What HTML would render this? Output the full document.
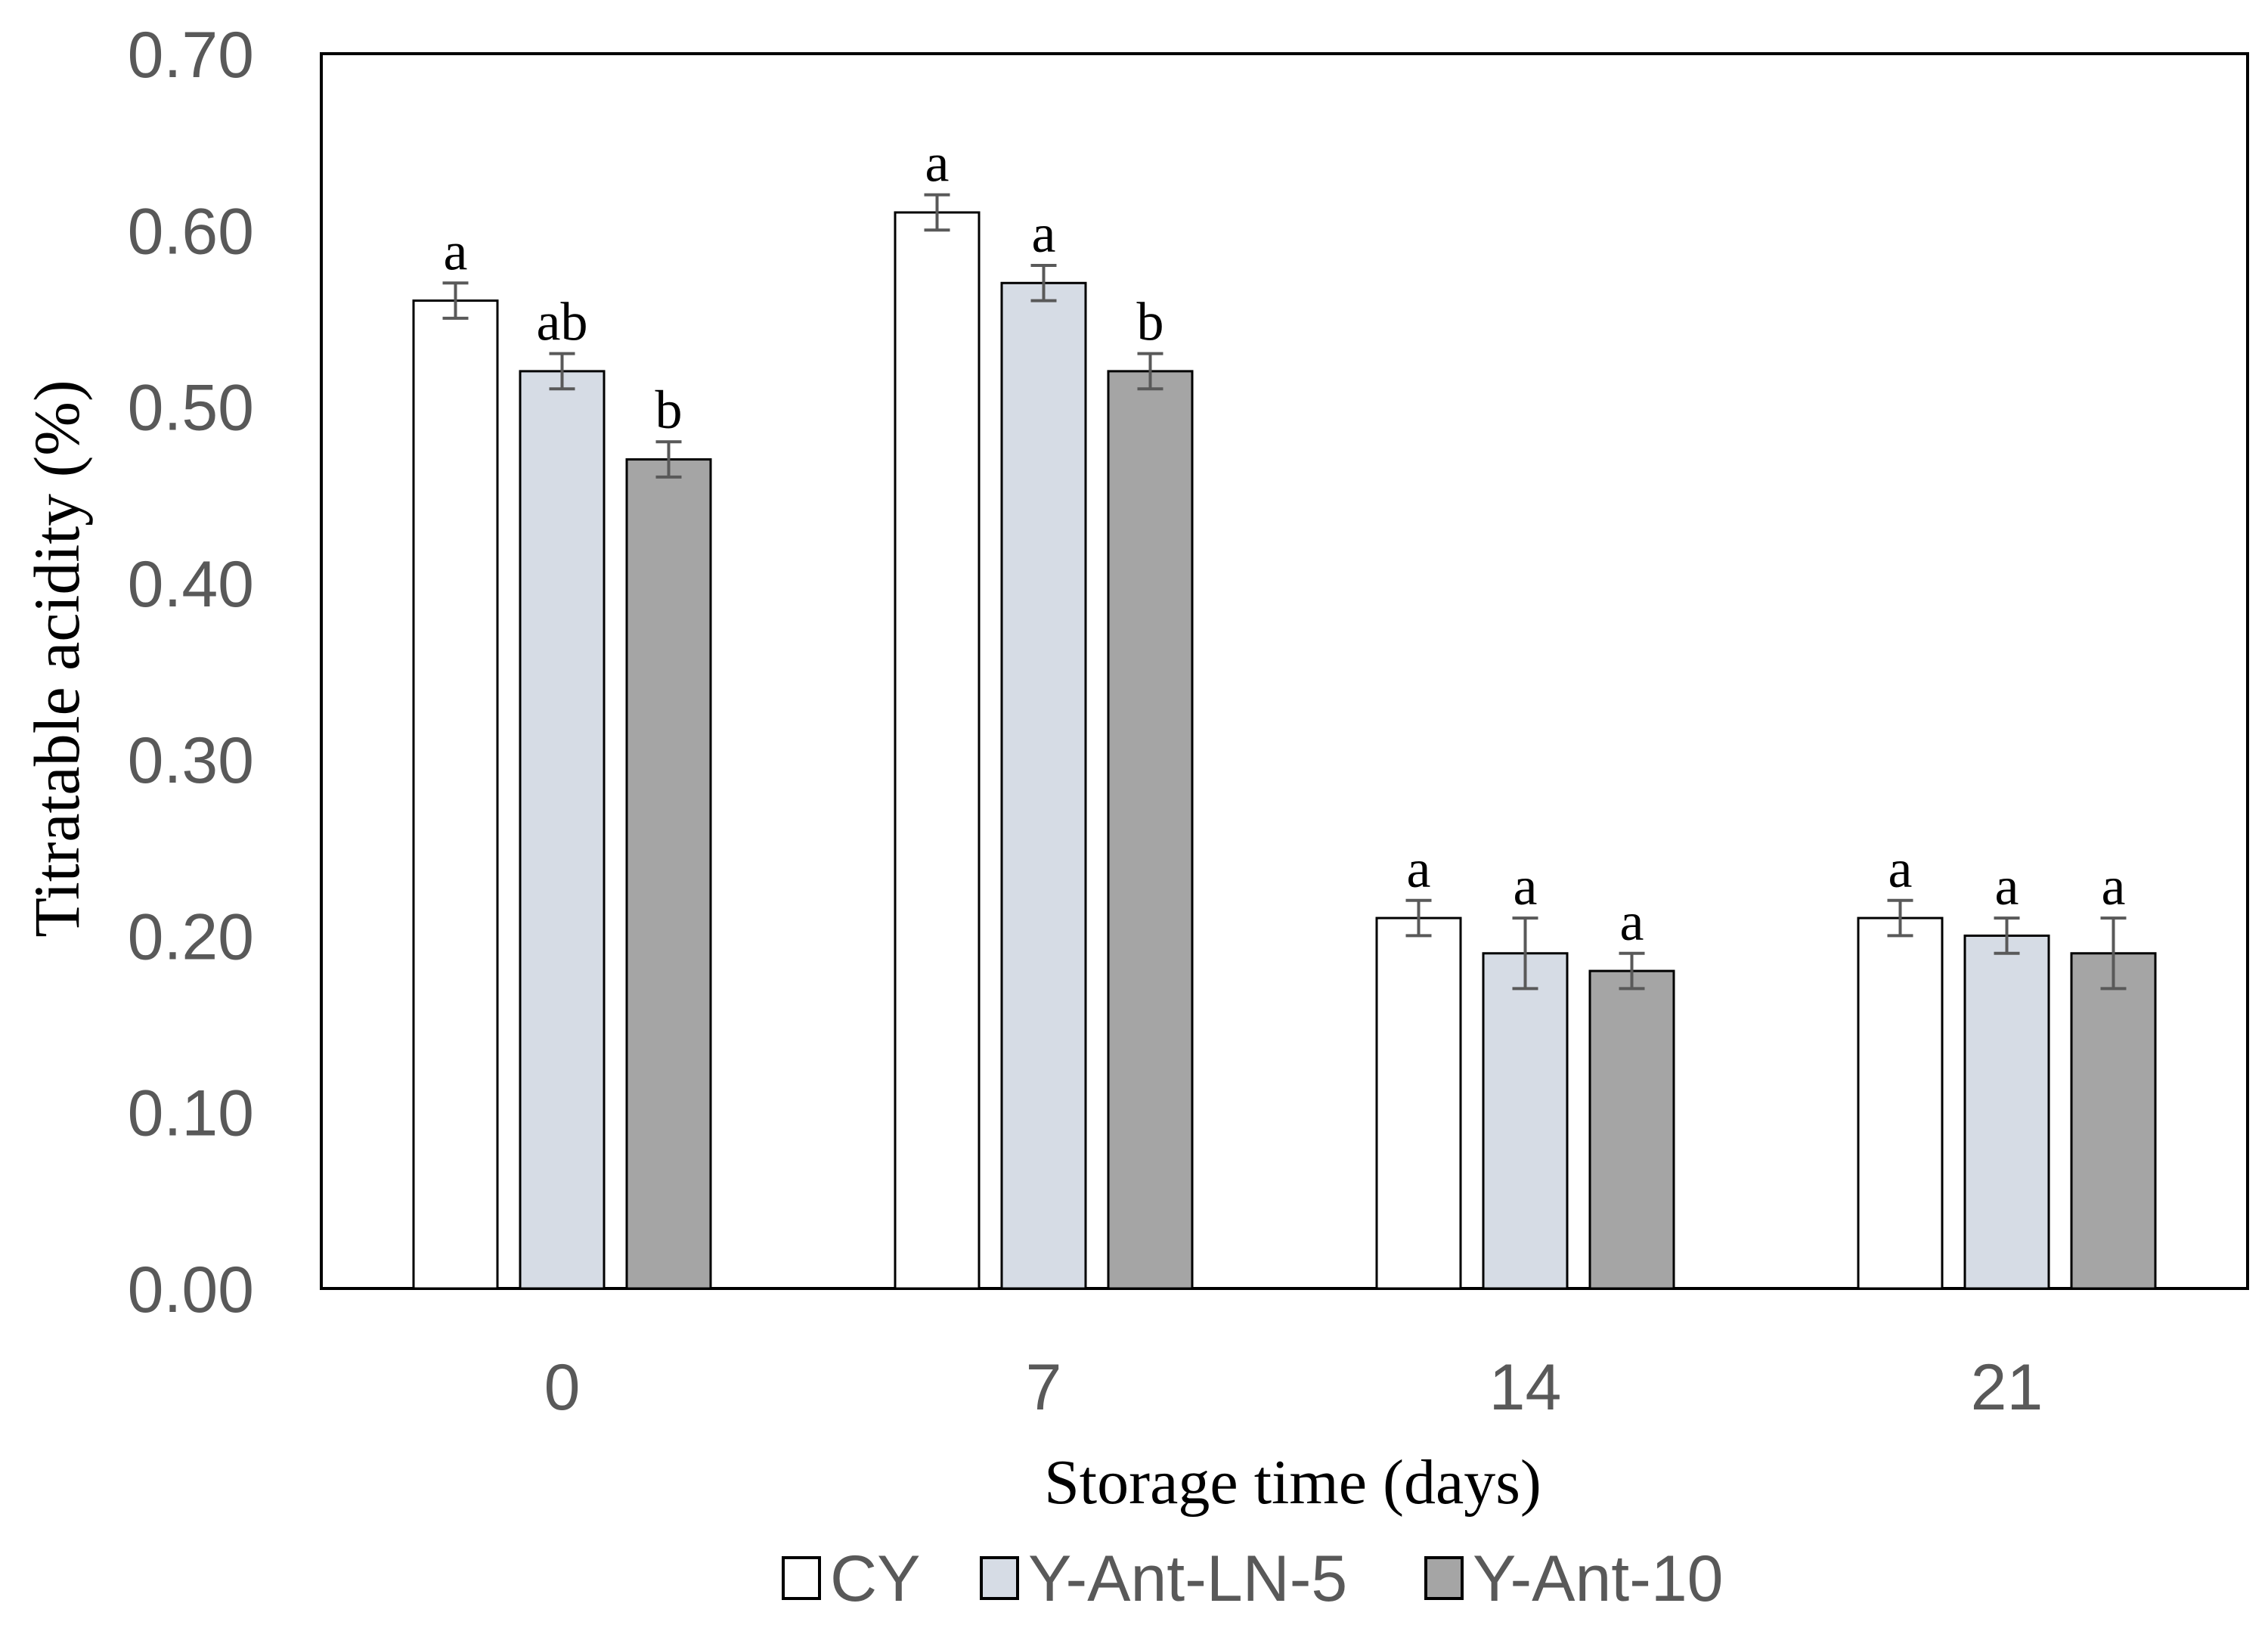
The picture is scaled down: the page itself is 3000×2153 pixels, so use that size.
<!DOCTYPE html>
<html><head><meta charset="utf-8"><style>
html,body{margin:0;padding:0;background:#fff}
svg{display:block}
.tk{font-family:"Liberation Sans",sans-serif;font-size:86px;fill:#595959}
.sf{font-family:"Liberation Serif",serif;fill:#000}
</style></head><body>
<svg id="chart" width="3000" height="2153" viewBox="0 0 3000 2153">
<rect x="425" y="71" width="2548" height="1633" fill="#fff" stroke="#000" stroke-width="4"/>
<g id="yticks"></g><g id="bars"></g><g id="xticks"></g>
<text class="sf" x="1710" y="1988" font-size="84" text-anchor="middle">Storage time (days)</text>
<text class="sf" font-size="86" text-anchor="middle" transform="translate(104,871) rotate(-90)">Titratable acidity (%)</text>
<g id="legend"></g>
</svg>
<script>
const categories=["0","7","14","21"];
const seriesNames=["CY","Y-Ant-LN-5","Y-Ant-10"];
const cyValues=[0.56,0.61,0.21,0.21];
const lnValues=[0.52,0.57,0.19,0.20];
const antValues=[0.47,0.52,0.18,0.19];
const cyErr=[0.01,0.01,0.01,0.01];
const lnErr=[0.01,0.01,0.02,0.01];
const antErr=[0.01,0.01,0.01,0.02];
const cyLetters=["a","a","a","a"];
const lnLetters=["ab","a","a","a"];
const antLetters=["b","b","a","a"];
const yTicks=["0.00","0.10","0.20","0.30","0.40","0.50","0.60","0.70"];
const NS="http://www.w3.org/2000/svg";
const L=425,R=2973,T=71,B=1704,YMAX=0.7;
const y=v=>B-v/YMAX*(B-T);
const bw=(R-L)/categories.length;
const xc=i=>L+bw*(i+0.5);
const fills=["#ffffff","#d6dce5","#a5a5a5"];
const vals=[cyValues,lnValues,antValues],errs=[cyErr,lnErr,antErr],lets=[cyLetters,lnLetters,antLetters];
function mk(t,a,p){const e=document.createElementNS(NS,t);for(const k in a)e.setAttribute(k,a[k]);p.appendChild(e);return e;}
const gy=document.getElementById('yticks');
yTicks.forEach(t=>{const e=mk('text',{x:336,y:y(parseFloat(t))+31,'text-anchor':'end',class:'tk'},gy);e.textContent=t;

});
const gx=document.getElementById('xticks');
categories.forEach((c,i)=>{const e=mk('text',{x:xc(i),y:1864,'text-anchor':'middle',class:'tk'},gx);e.textContent=c;

});
const gb=document.getElementById('bars');
const W=111,P=141;
categories.forEach((c,i)=>{for(let s=0;s<3;s++){
 const cx=xc(i)+(s-1)*P,v=vals[s][i],er=errs[s][i];
 const r=mk('rect',{x:cx-W/2,y:y(v),width:W,height:B-y(v),fill:fills[s],stroke:'#000','stroke-width':3},gb);
 
 
 const eb=mk('path',{d:`M${cx},${y(v+er)}V${y(v-er)}M${cx-17},${y(v+er)}H${cx+17}M${cx-17},${y(v-er)}H${cx+17}`,stroke:'#595959','stroke-width':4,fill:'none'},gb);
 
 
 const t=mk('text',{x:cx,y:y(v+er)-18,'text-anchor':'middle',class:'sf','font-size':72},gb);t.textContent=lets[s][i];
 
 
}});
const gl=document.getElementById('legend');
const lx=[1036,1298,1886];
seriesNames.forEach((n,s)=>{
 const r=mk('rect',{x:lx[s],y:2060,width:48,height:54,fill:fills[s],stroke:'#000','stroke-width':4},gl);
 
 
 const t=mk('text',{x:lx[s]+62,y:2117,class:'tk'},gl);t.textContent=n;
 
 
});
</script>
</body></html>
